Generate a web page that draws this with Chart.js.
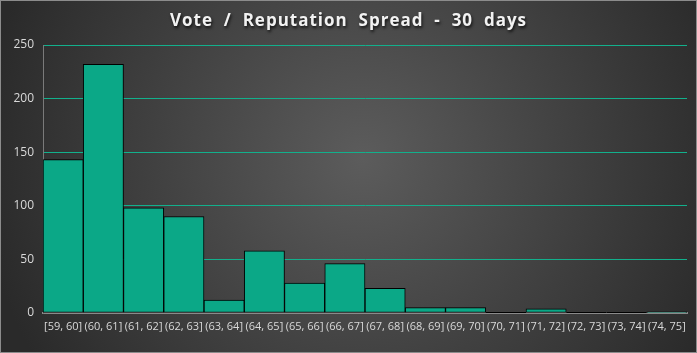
<!DOCTYPE html>
<html>
<head>
<meta charset="utf-8">
<script src="https://cdn.jsdelivr.net/npm/chart.js@4"></script>
<style>
    html, body { margin: 0; padding: 0; background: #2a2a2a; }
    #wrap { width: 697px; height: 353px; position: relative; }
</style>
</head>
<body>
<div id="wrap"><canvas id="chart" width="697" height="353"></canvas></div>
<script>
// Data
const titleText = "Vote / Reputation Spread - 30 days";
const bins = ["[59, 60]", "(60, 61]", "(61, 62]", "(62, 63]", "(63, 64]", "(64, 65]", "(65, 66]", "(66, 67]",
    "(67, 68]", "(68, 69]", "(69, 70]", "(70, 71]", "(71, 72]", "(72, 73]", "(73, 74]", "(74, 75]"];
const counts = [143, 232, 98, 90, 12, 58, 28, 46, 23, 5, 5, 0, 4, 0, 0, 1];
const yTicks = [0, 50, 100, 150, 200, 250];

// background, frame and shadowed title
const backdrop = {
    id: "backdrop",
    beforeDraw: function (chart) {
        const ctx = chart.ctx;
        const w = chart.width, h = chart.height;
        ctx.save();
        const g = ctx.createRadialGradient(w * 0.52, h * 0.45, 0, w * 0.52, h * 0.45, w * 0.55);
        g.addColorStop(0, "#5c5c5c");
        g.addColorStop(1, "#2a2a2a");
        ctx.fillStyle = g;
        ctx.fillRect(0, 0, w, h);
        ctx.restore();
    },
    afterDatasetsDraw: function (chart) {
        // Excel still outlines empty bins with a thin line on the axis
        const ctx = chart.ctx;
        const meta = chart.getDatasetMeta(0);
        ctx.save();
        ctx.strokeStyle = "#000000";
        ctx.lineWidth = 1;
        meta.data.forEach(function (bar, i) {
            if (counts[i] === 0) {
                ctx.beginPath();
                ctx.moveTo(bar.x - bar.width / 2, bar.base - 0.5);
                ctx.lineTo(bar.x + bar.width / 2, bar.base - 0.5);
                ctx.stroke();
            }
        });
        ctx.restore();
    },
    afterDraw: function (chart) {
        const ctx = chart.ctx;
        const w = chart.width, h = chart.height;
        ctx.save();
        ctx.strokeStyle = "#8c8c8c";
        ctx.lineWidth = 1;
        ctx.strokeRect(0.5, 0.5, w - 1, h - 1);

        ctx.font = "bold 17px 'Open Sans'";
        ctx.letterSpacing = "1px";
        ctx.textAlign = "center";
        ctx.textBaseline = "middle";
        ctx.shadowColor = "rgba(0,0,0,0.75)";
        ctx.shadowOffsetX = 1;
        ctx.shadowOffsetY = 2;
        ctx.shadowBlur = 3;
        ctx.fillStyle = "#f2f2f2";
        ctx.fillText(titleText.replace(/ /g, "  "), w / 2, 21);
        ctx.restore();
    }
};

new Chart(document.getElementById("chart"), {
    type: "bar",
    data: {
        labels: bins,
        datasets: [{
            data: counts,
            backgroundColor: "#0ba887",
            borderColor: "#000000",
            borderWidth: 1,
            borderSkipped: false,
            categoryPercentage: 1.0,
            barPercentage: 1.0
        }]
    },
    options: {
        responsive: false,
        animation: false,
        layout: { padding: { top: 45, right: 10, left: 0, bottom: 0 } },
        plugins: {
            legend: { display: false },
            title: { display: false },
            tooltip: { enabled: false }
        },
        scales: {
            x: {
                grid: { display: false, drawTicks: false },
                border: { color: "#8a8a8a", width: 2 },
                ticks: {
                    color: "#d9d9d9",
                    font: { family: "'Open Sans'", size: 11 },
                    autoSkip: false,
                    maxRotation: 0,
                    minRotation: 0,
                    padding: 7
                },
                afterFit: function (scale) { scale.height = 40; }
            },
            y: {
                min: 0,
                max: 250,
                afterBuildTicks: function (scale) {
                    scale.ticks = yTicks.map(function (v) { return { value: v }; });
                },
                grid: {
                    color: function (c) { return c.tick.value === 0 ? "rgba(0,0,0,0)" : "#12b08c"; },
                    lineWidth: 1,
                    drawTicks: false
                },
                border: { color: "#7a7a7a", width: 1 },
                ticks: {
                    color: "#d9d9d9",
                    font: { family: "'Open Sans'", size: 12 },
                    padding: 9
                },
                afterFit: function (scale) { scale.width = 43; }
            }
        }
    },
    plugins: [backdrop]
});
</script>
</body>
</html>
